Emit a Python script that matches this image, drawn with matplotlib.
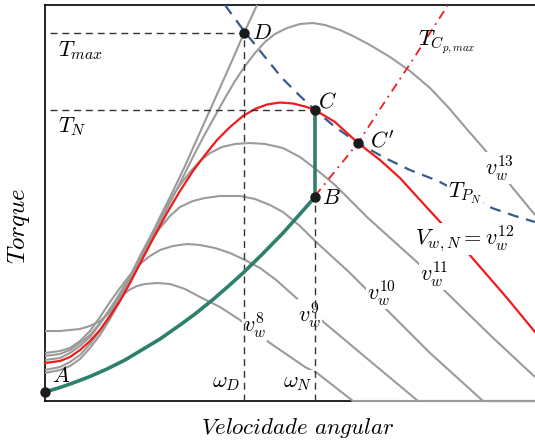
import numpy as np
import matplotlib
matplotlib.use('Agg')
import matplotlib.pyplot as plt

plt.rcParams['mathtext.fontset'] = 'cm'
plt.rcParams['font.family'] = 'DejaVu Serif'

# torque-speed curves, one per wind speed (omega, torque in arbitrary units)
w_v8 = [0, 15, 25, 35, 45, 55, 62, 70, 77, 84, 92, 100, 112, 125, 140, 155, 175, 195, 225, 260, 272, 308, 490]
t_v8 = [70, 70, 71, 72, 75, 80, 86, 96, 105, 111, 115, 117, 118, 117, 112, 104, 94, 81, 58, 34, 28, 0, 0]

w_v9 = [0, 15, 25, 35, 45, 55, 65, 75, 85, 95, 105, 115, 128, 142, 155, 170, 185, 200, 215, 230, 248, 282, 325, 373, 490]
t_v9 = [48, 50, 53, 60, 70, 84, 99, 113, 126, 137, 145, 151, 155, 157, 156, 153, 148, 141, 133, 122, 106, 76, 40, 0, 0]

w_v10 = [0, 15, 25, 35, 45, 55, 65, 75, 85, 95, 105, 115, 125, 135, 148, 160, 175, 195, 210, 225, 238, 255, 270, 305, 343, 385, 438, 490]
t_v10 = [45, 47, 51, 58, 66, 78, 92, 106, 123, 141, 158, 173, 185, 194, 200, 203, 205, 205, 202, 196, 189, 175, 160, 128, 90, 48, 0, 0]

w_v11 = [0, 15, 25, 35, 45, 55, 65, 75, 85, 95, 105, 115, 125, 135, 145, 155, 165, 177, 190, 205, 220, 238, 255, 272, 290, 305, 323, 373, 402, 445, 490]
t_v11 = [41, 43, 48, 55, 64, 77, 92, 108, 125, 145, 164, 183, 201, 216, 229, 240, 248, 254, 257, 258, 257, 253, 244, 231, 216, 201, 183, 138, 108, 66, 24]

w_v12 = [0, 15, 25, 35, 45, 55, 65, 75, 85, 98, 110, 122, 135, 148, 160, 172, 185, 198, 210, 222, 235, 248, 260, 270, 290, 313, 335, 355, 375, 398, 423, 462, 490]
t_v12 = [38, 40, 44, 51, 60, 71, 85, 100, 118, 143, 166, 188, 210, 230, 246, 261, 274, 285, 292, 296.5, 298.5, 297.5, 294.5, 291, 279, 258, 241, 223, 201, 176, 148, 103, 69]

w_v13 = [0, 15, 25, 35, 45, 55, 65, 75, 85, 95, 105, 115, 128, 140, 150, 160, 170, 180, 190, 200, 210, 220, 230, 242, 255, 268, 280, 295, 310, 325, 345, 365, 385, 403, 420, 440, 467, 490]
t_v13 = [31, 34, 39, 46, 57, 70, 86, 104, 122, 140, 160, 179, 204, 228, 248, 267, 285, 303, 320, 335, 348, 359, 367, 373, 377, 378, 376, 371, 364, 356, 344, 330, 313, 294, 274, 251, 214, 186]

w_v14 = [0, 15, 25, 35, 45, 55, 65, 75, 85, 95, 105, 115, 128, 140, 152, 165, 178, 190, 199, 206, 212]
t_v14 = [28, 31, 35, 42, 53, 66, 82, 100, 120, 141, 162, 184, 210, 235, 262, 291, 320, 347, 368, 383, 396]

# constant nominal power hyperbola and optimal Cp line
w_pn = [180, 199, 220, 237, 255, 270, 290, 313, 340, 365, 393, 420, 447, 470, 490]
t_pn = [396, 370, 344, 323, 305, 291, 274, 258, 243, 231, 220, 206, 193, 185, 179]

w_cp = [270, 291, 313, 339, 365, 383, 403]
t_cp = [205, 231, 258, 298, 337, 365, 396]

# control trajectory A -> B -> C
w_ctrl = [0, 15, 28, 45, 62, 80, 95, 115, 135, 150, 168, 183, 198, 218, 238, 255, 270, 270]
t_ctrl = [9, 13.5, 18, 24.5, 32, 41, 50, 62, 76, 87, 101.5, 114.5, 128, 147.5, 168, 187, 204, 291]

# operating points
pts = {'A': (0, 9), 'B': (270, 204), 'C': (270, 291), "C'": (313, 258), 'D': (199, 368)}
w_D, w_N = 199, 270
T_max, T_N = 368, 291

fig = plt.figure(figsize=(5.35, 4.43), dpi=100)
ax = fig.add_axes([45/535, 42/443, 490/535, 396/443])
ax.set_xlim(0, 490)
ax.set_ylim(0, 396)
ax.set_xticks([])
ax.set_yticks([])
ax.spines['right'].set_visible(False)
for s in ('left', 'bottom', 'top'):
    ax.spines[s].set_linewidth(1.2)

gray = '#9b9b9b'
for w, t in [(w_v8, t_v8), (w_v9, t_v9), (w_v10, t_v10), (w_v11, t_v11), (w_v13, t_v13), (w_v14, t_v14)]:
    ax.plot(w, t, color=gray, lw=1.5, zorder=3, clip_on=False, solid_capstyle='butt')
ax.plot(w_v12, t_v12, color='#ee1c1c', lw=1.6, zorder=3.2, clip_on=False)

ax.plot(w_pn, t_pn, color='#3b5a8c', lw=1.6, ls=(0, (5, 3.5)), zorder=3.1)
ax.plot(w_cp, t_cp, color='#ee1c1c', lw=1.3, ls=(0, (5, 3, 1, 3)), zorder=3.1)

# reference lines
dk = dict(color='#333333', lw=1.0, ls=(0, (5, 3.5)), zorder=4.5)
ax.plot([5, w_D], [T_max, T_max], **dk)
ax.plot([5, w_N], [T_N, T_N], **dk)
ax.plot([w_D, w_D], [0, T_max], **dk)
ax.plot([w_N, w_N], [0, pts['B'][1]], **dk)

ax.plot(w_ctrl, t_ctrl, color='#2e7f6e', lw=2.6, zorder=5, clip_on=False)

for name, (x, y) in pts.items():
    ax.plot(x, y, 'o', color='#1a1a1a', ms=6.5, zorder=6, clip_on=False)

fs = 16
box = dict(facecolor='white', edgecolor='none', pad=0.5)
ax.text(7, 25, r'$A$', fontsize=fs, va='center', ha='left', zorder=6)
ax.text(277, 203, r'$B$', fontsize=fs, va='center', ha='left', zorder=6)
ax.text(273, 299, r'$C$', fontsize=fs, va='center', ha='left', zorder=6)
ax.text(325, 260, r"$C'$", fontsize=fs, va='center', ha='left', zorder=6)
ax.text(207, 368, r'$D$', fontsize=fs, va='center', ha='left', zorder=6)
ax.text(13, 350, r'$T_{max}$', fontsize=fs, va='center', ha='left', zorder=6)
ax.text(13, 274, r'$T_N$', fontsize=fs, va='center', ha='left', zorder=6)
ax.text(195, 19, r'$\omega_D$', fontsize=fs, va='center', ha='right', zorder=6)
ax.text(268, 19, r'$\omega_N$', fontsize=fs, va='center', ha='right', zorder=4, bbox=box)

ax.text(198, 76, r'$v_w^8$', fontsize=fs, va='center', ha='left', zorder=4, bbox=box)
ax.text(253, 86, r'$v_w^9$', fontsize=fs, va='center', ha='left', zorder=4, bbox=box)
ax.text(322, 108, r'$v_w^{10}$', fontsize=fs, va='center', ha='left', zorder=4, bbox=box)
ax.text(375, 127, r'$v_w^{11}$', fontsize=fs, va='center', ha='left', zorder=4, bbox=box)
ax.text(370, 162, r'$V_{w,N} = v_w^{12}$', fontsize=fs, va='center', ha='left', zorder=4, bbox=box)
ax.text(440, 233, r'$v_w^{13}$', fontsize=fs, va='center', ha='left', zorder=4, bbox=box)
ax.text(403, 208, r'$T_{P_N}$', fontsize=fs, va='center', ha='left', zorder=4, bbox=box)
ax.text(373, 359, r'$T_{C_{p,max}}$', fontsize=fs, va='center', ha='left', zorder=4)

fig.text(19/535, 1 - 226/443, r'$Torque$', fontsize=18, rotation=90, ha='center', va='center')
fig.text(298/535, 1 - 428/443, r'$Velocidade\ angular$', fontsize=16.5, ha='center', va='center')

fig.savefig('out.png', dpi=100)
